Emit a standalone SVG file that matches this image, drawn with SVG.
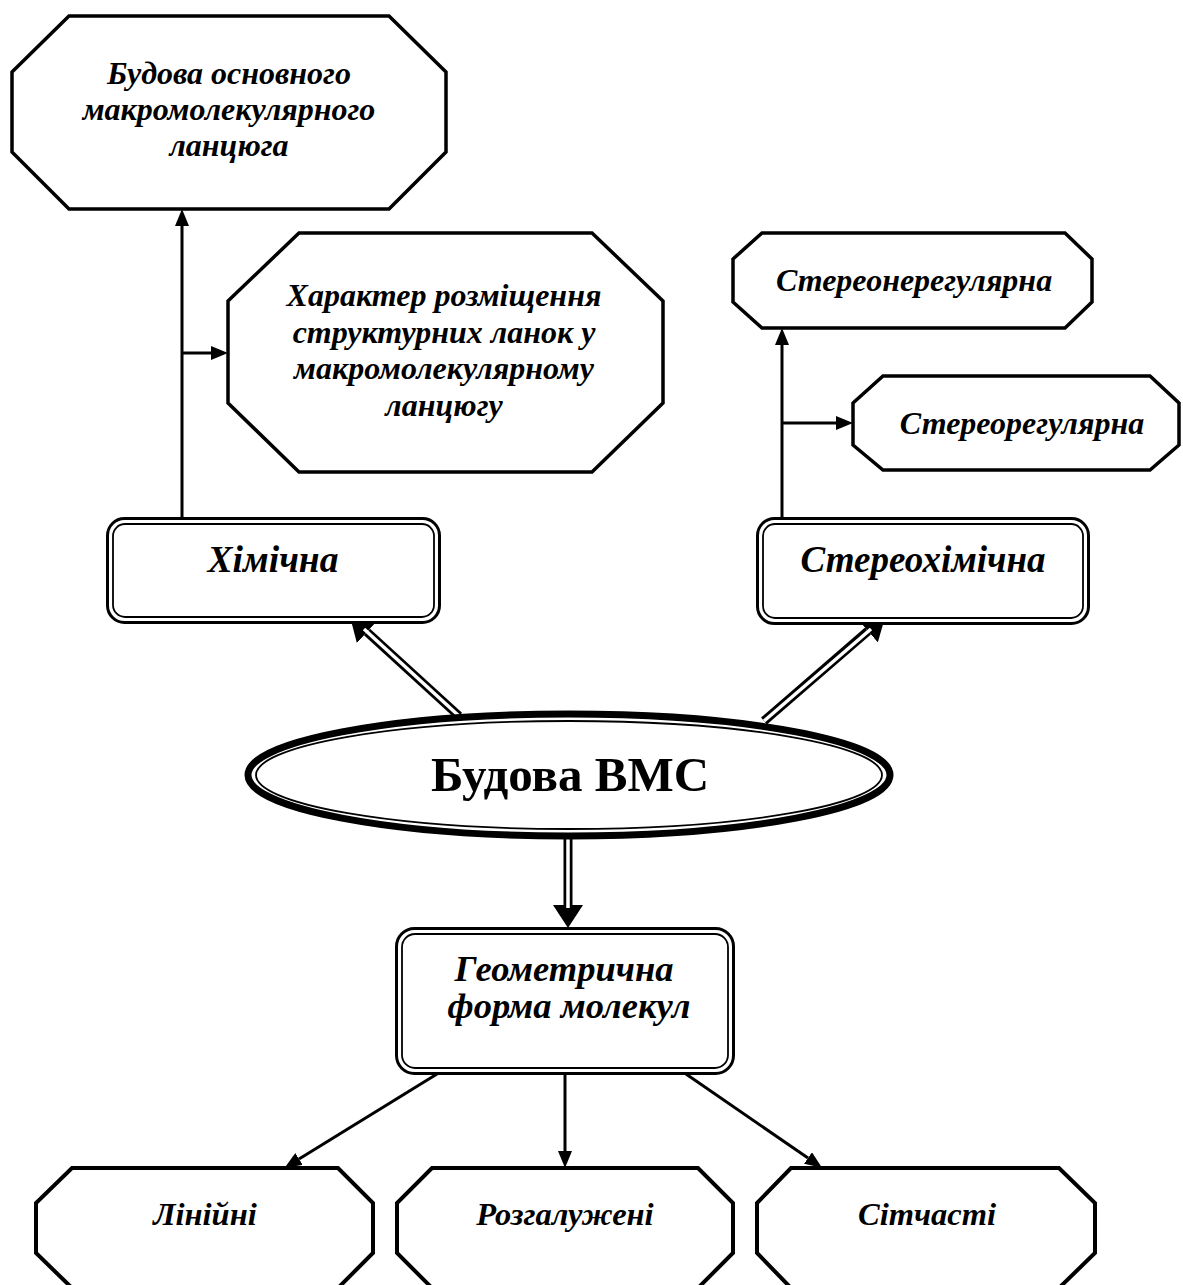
<svg xmlns="http://www.w3.org/2000/svg" width="1183" height="1285" viewBox="0 0 1183 1285">
  <style>
    .oct { fill: #fff; stroke: #000; stroke-width: 3.5; stroke-linejoin: miter; }
    .octb { fill: #fff; stroke: #000; stroke-width: 4; stroke-linejoin: miter; }
    .outer { fill: #fff; stroke: #000; stroke-width: 3; }
    .inner { fill: none; stroke: #000; stroke-width: 1.8; }
    .lbl { font-family: "Liberation Serif", "Times New Roman", serif; font-weight: bold; font-style: italic; text-anchor: middle; fill: #000; }
    .title { font-family: "Liberation Serif", "Times New Roman", serif; font-weight: bold; text-anchor: middle; fill: #000; }
    .wire { fill: none; stroke: #000; stroke-width: 3; }
    .dbl { fill: none; stroke: #000; stroke-width: 9; }
    .dblin { fill: none; stroke: #fff; stroke-width: 3.5; }
  </style>
  <defs>
    <marker id="arr" markerUnits="userSpaceOnUse" markerWidth="17" markerHeight="14" refX="0" refY="7" orient="auto">
      <path d="M0,0 L17,7 L0,14 z" fill="#000"/>
    </marker>
    <marker id="arrBig" markerUnits="userSpaceOnUse" markerWidth="23" markerHeight="30" refX="0" refY="15" orient="auto">
      <path d="M0,0 L23,15 L0,30 z" fill="#000"/>
    </marker>
  </defs>
  <rect width="1183" height="1285" fill="#fff"/>

  <!-- connectors -->
  <g id="connectors">
    <!-- chemical branch -->
    <line class="wire" x1="182" y1="520" x2="182" y2="226" marker-end="url(#arr)"/>
    <line class="wire" x1="182" y1="353" x2="211" y2="353" marker-end="url(#arr)"/>
    <!-- stereochemical branch -->
    <line class="wire" x1="782" y1="520" x2="782" y2="345" marker-end="url(#arr)"/>
    <line class="wire" x1="782" y1="423" x2="836" y2="423" marker-end="url(#arr)"/>
    <!-- double arrows from the central ellipse -->
    <line class="dbl" x1="459" y1="716" x2="367" y2="632" marker-end="url(#arrBig)"/>
    <line class="dblin" x1="459" y1="716" x2="364" y2="629"/>
    <line class="dbl" x1="764" y1="721" x2="868" y2="631" marker-end="url(#arrBig)"/>
    <line class="dblin" x1="764" y1="721" x2="871" y2="629"/>
    <line class="dbl" x1="568" y1="836" x2="568" y2="905" marker-end="url(#arrBig)"/>
    <line class="dblin" x1="568" y1="836" x2="568" y2="908"/>
    <!-- shapes of molecules -->
    <line class="wire" x1="437" y1="1074" x2="299" y2="1159" marker-end="url(#arr)"/>
    <line class="wire" x1="565" y1="1075" x2="565" y2="1151" marker-end="url(#arr)"/>
    <line class="wire" x1="686" y1="1074" x2="808" y2="1158" marker-end="url(#arr)"/>
  </g>

  <g id="node-chain">
    <polygon class="oct" points="69,16 389,16 446,72 446,152 389,209 69,209 12,152 12,72"/>
    <text class="lbl" font-size="32" x="229" y="84">Будова основного</text>
    <text class="lbl" font-size="32" x="229" y="120">макромолекулярного</text>
    <text class="lbl" font-size="32" x="229" y="156">ланцюга</text>
  </g>

  <g id="node-units">
    <polygon class="oct" points="299,233 592,233 663,301 663,403 592,472 299,472 228,403 228,301"/>
    <text class="lbl" font-size="32" x="444" y="306">Характер розміщення</text>
    <text class="lbl" font-size="32" x="444" y="342.5">структурних ланок у</text>
    <text class="lbl" font-size="32" x="444" y="379">макромолекулярному</text>
    <text class="lbl" font-size="32" x="444" y="415.5">ланцюгу</text>
  </g>

  <g id="node-stereoirregular">
    <polygon class="oct" points="762,233 1065,233 1092,259 1092,302 1065,328 762,328 733,302 733,259"/>
    <text class="lbl" font-size="32" x="914" y="291">Стереонерегулярна</text>
  </g>

  <g id="node-stereoregular">
    <polygon class="oct" points="883,376 1150,376 1179,403 1179,445 1150,470 883,470 853,445 853,403"/>
    <text class="lbl" font-size="32" x="1022" y="434">Стереорегулярна</text>
  </g>

  <g id="node-chemical">
    <rect class="outer" x="107.5" y="518.5" width="332" height="104" rx="17"/>
    <rect class="inner" x="113" y="524" width="321" height="93" rx="12"/>
    <text class="lbl" font-size="37.5" x="273" y="572">Хімічна</text>
  </g>

  <g id="node-stereochemical">
    <rect class="outer" x="757.5" y="518.5" width="331" height="105" rx="17"/>
    <rect class="inner" x="763" y="524" width="320" height="94" rx="12"/>
    <text class="lbl" font-size="37" x="923" y="572">Стереохімічна</text>
  </g>

  <g id="node-root">
    <ellipse cx="569" cy="775" rx="321" ry="61" fill="#fff" stroke="#000" stroke-width="7"/>
    <ellipse cx="569" cy="775" rx="313" ry="54" fill="none" stroke="#000" stroke-width="1.8"/>
    <text class="title" font-size="49" x="570" y="791">Будова ВМС</text>
  </g>

  <g id="node-geometry">
    <rect class="outer" x="396.5" y="928.5" width="337" height="145" rx="18"/>
    <rect class="inner" x="402" y="934" width="326" height="134" rx="13"/>
    <text class="lbl" font-size="36.5" x="564" y="981">Геометрична</text>
    <text class="lbl" font-size="36.5" x="569" y="1018">форма молекул</text>
  </g>

  <g id="node-linear">
    <polygon class="octb" points="72,1168 338,1168 373,1203 373,1253 338,1288 72,1288 36,1253 36,1203"/>
    <text class="lbl" font-size="32.5" x="205" y="1225">Лінійні</text>
  </g>

  <g id="node-branched">
    <polygon class="octb" points="432,1168 698,1168 733,1203 733,1253 698,1288 432,1288 397,1253 397,1203"/>
    <text class="lbl" font-size="32.5" x="565" y="1225">Розгалужені</text>
  </g>

  <g id="node-network">
    <polygon class="octb" points="791,1168 1059,1168 1095,1203 1095,1253 1059,1288 791,1288 757,1253 757,1203"/>
    <text class="lbl" font-size="32.5" x="927" y="1225">Сітчасті</text>
  </g>
</svg>
